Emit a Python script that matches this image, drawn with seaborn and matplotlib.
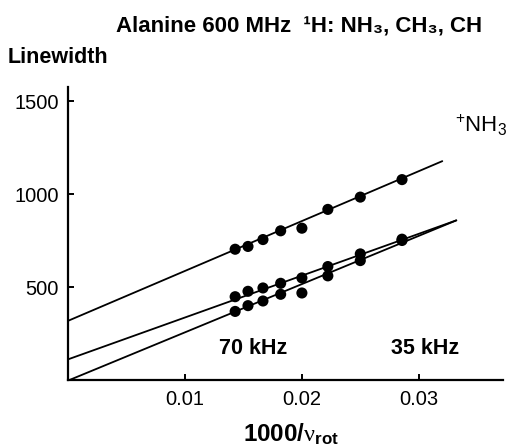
import numpy as np
import pandas as pd
import matplotlib
matplotlib.use("Agg")
import matplotlib.pyplot as plt
import seaborn as sns

# rotor speeds (kHz) and linewidths
spin_khz = [70, 65, 60, 55, 50, 45, 40, 35]
nh3 = [705, 720, 757, 804, 818, 919, 985, 1079]
ch3 = [450, 479, 497, 522, 551, 612, 680, 759]
ch = [371, 402, 427, 463, 470, 562, 644, 752]

# fitted lines: intercept, slope, end of line on x
fit_b = [321, 114, 0]
fit_m = [26770, 22457, 25888]
fit_end = [0.03202, 0.03322, 0.03322]

sns.set_style("ticks")
plt.rcParams["font.family"] = ["Liberation Sans", "DejaVu Sans"]
plt.rcParams["mathtext.fontset"] = "custom"
plt.rcParams["mathtext.rm"] = "Liberation Sans:bold"
plt.rcParams["mathtext.bf"] = "Liberation Sans:bold"
plt.rcParams["mathtext.sf"] = "Liberation Sans"
plt.rcParams["mathtext.it"] = "Liberation Serif"
for k in ["text.color", "axes.edgecolor", "xtick.color", "ytick.color",
          "axes.labelcolor"]:
    plt.rcParams[k] = "black"

x = 1.0 / np.array(spin_khz)  # 1000/nu_rot with nu in Hz
pts = pd.DataFrame({
    "x": np.tile(x, 3),
    "y": nh3 + ch3 + ch,
    "grp": ["NH3"] * 8 + ["CH3"] * 8 + ["CH"] * 8,
})

fig = plt.figure(figsize=(5.07, 4.48), dpi=100)
ax = fig.add_axes([0.1347, 0.1507, 0.857, 0.6545])

for b, m, e in zip(fit_b, fit_m, fit_end):
    xs = np.array([0.0, e])
    sns.lineplot(x=xs, y=b + m * xs, ax=ax, color="black", lw=1.3)

sns.scatterplot(data=pts, x="x", y="y", ax=ax, color="black", s=64,
                edgecolor="none", legend=False, zorder=3)

ax.set_xlim(0, 0.0372)
ax.set_ylim(0, 1575)
ax.set_xticks([0.01, 0.02, 0.03])
ax.set_xticklabels(["0.01", "0.02", "0.03"])
ax.set_yticks([500, 1000, 1500])
ax.set_xlabel("")
ax.set_ylabel("")
sns.despine(ax=ax)
for s in ["left", "bottom"]:
    ax.spines[s].set_linewidth(1.6)
ax.tick_params(direction="in", length=4.5, width=1.4, labelsize=14.5, pad=7)

ax.text(0.01579, 170, "70 kHz", ha="center", va="center", fontsize=15.5, fontweight="bold")
ax.text(0.03058, 170, "35 kHz", ha="center", va="center", fontsize=15.5, fontweight="bold")
ax.text(0.0331, 1372, r"$\mathsf{^{+}}$NH$\mathsf{_3}$", ha="left", va="center", fontsize=16)

fig.text(0.59, 0.942, "Alanine 600 MHz  \u00b9H: NH\u2083, CH\u2083, CH",
         ha="center", va="center", fontsize=16, fontweight="bold")
fig.text(0.016, 0.872, "Linewidth", ha="left", va="center", fontsize=15.5, fontweight="bold")
fig.text(0.574, 0.0134, r"$\mathrm{1000/}\nu_{\mathrm{rot}}$", ha="center", va="baseline",
         fontsize=17.5)

fig.savefig("out.png", dpi=100)
